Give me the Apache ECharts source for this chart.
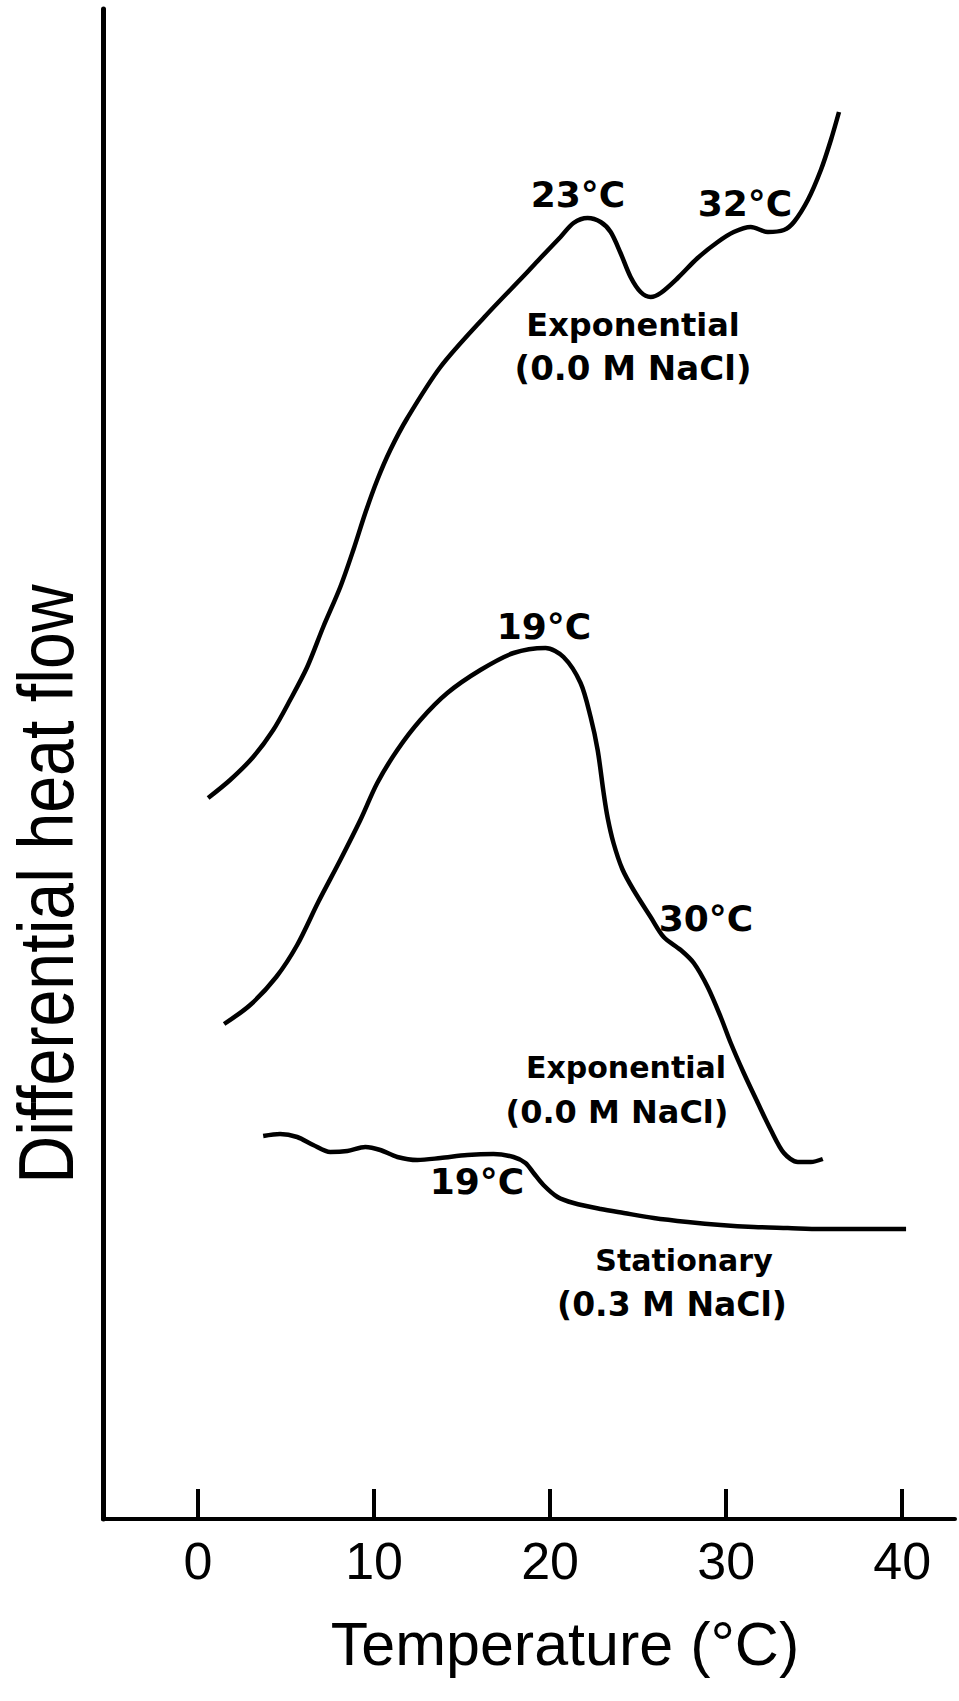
<!DOCTYPE html>
<html>
<head>
<meta charset="utf-8">
<script src="https://cdn.jsdelivr.net/npm/echarts@6/dist/echarts.min.js"></script>
<style>
html,body{margin:0;padding:0;background:#fff;}
#chart{width:959px;height:1701px;}
</style>
</head>
<body>
<div id="chart"></div>
<script>
// ---- data ----
const tempTicks = [0, 10, 20, 30, 40];

// Exponential (0.0 M NaCl) - upper trace
const expUpperT = [0.57,1.82,3.13,4.27,5.23,6.20,7.11,8.08,8.82,9.50,10.18,10.92,11.89,13.77,16.27,18.71,19.45,20.59,21.33,22.13,22.87,23.44,24.00,24.57,25.14,25.71,26.28,27.25,28.38,29.52,30.43,31.40,32.37,33.28,33.85,34.64,35.38,35.95,36.41];
const expUpperV = [72.1,73.9,76.2,78.9,81.9,85.2,89.2,93.2,96.9,100.6,103.9,106.9,110.1,115.2,120.2,124.7,126.1,128.2,129.6,130.1,129.7,128.7,126.6,124.2,122.7,122.2,122.6,124.1,126.1,127.7,128.7,129.2,128.7,128.9,129.7,131.9,134.9,137.9,140.7];

// Exponential (0.0 M NaCl) - middle trace
const expMiddleT = [1.48,2.96,4.44,5.63,6.83,8.08,9.22,10.18,11.32,12.63,14.16,16.04,17.92,19.74,20.76,21.73,22.30,22.70,23.04,23.27,23.60,24.10,24.74,25.71,26.45,27.42,28.16,28.95,29.69,30.26,31.00,31.80,32.54,33.28,34.07,34.81,35.49];
const expMiddleV = [49.5,51.4,54.2,57.4,61.7,65.9,69.9,73.6,76.9,79.9,82.6,84.9,86.6,87.1,86.2,83.6,80.2,76.9,72.6,70.1,67.6,65.0,62.9,60.2,58.2,56.9,55.6,53.2,50.2,47.6,44.6,41.6,38.9,36.6,35.7,35.7,36.0];

// Stationary (0.3 M NaCl) - lower trace
const stationaryT = [3.70,4.66,5.63,6.54,7.51,8.48,9.50,10.35,11.32,12.46,13.77,15.30,16.78,17.92,18.60,19.06,19.62,20.42,21.33,22.87,24.18,25.88,27.82,29.69,31.57,33.50,35.38,37.26,40.22];
const stationaryV = [38.3,38.5,38.2,37.4,36.7,36.8,37.2,36.9,36.2,35.9,36.1,36.4,36.5,36.2,35.6,34.6,33.4,32.2,31.6,31.0,30.6,30.1,29.7,29.4,29.2,29.1,29.0,29.0,29.0];

// annotation texts
const annotations = [
  {text: '23°C', x: 578, y: 194, size: 36},
  {text: '32°C', x: 745, y: 203, size: 36},
  {text: 'Exponential', x: 633, y: 325, size: 32},
  {text: '(0.0 M NaCl)', x: 633, y: 368, size: 34},
  {text: '19°C', x: 544, y: 626, size: 36},
  {text: '30°C', x: 706, y: 918, size: 36},
  {text: 'Exponential', x: 626, y: 1067, size: 30},
  {text: '(0.0 M NaCl)', x: 617, y: 1112, size: 32},
  {text: '19°C', x: 477, y: 1181, size: 36},
  {text: 'Stationary', x: 684, y: 1260, size: 30},
  {text: '(0.3 M NaCl)', x: 672, y: 1304, size: 33}
];

function pairs(t, v) { return t.map((x, i) => [x, v[i]]); }

const chart = echarts.init(document.getElementById('chart'), null, {renderer: 'svg'});

const lineStyle = {color: '#000', width: 4.5};
function lineSeries(name, t, v) {
  return {
    name: name, type: 'line', data: pairs(t, v),
    showSymbol: false, symbol: 'none', smooth: 0.3,
    lineStyle: lineStyle, silent: true, animation: false
  };
}

const graphics = annotations.map(a => ({
  type: 'text', x: a.x, y: a.y, silent: true,
  style: {
    text: a.text, x: 0, y: 0, fill: '#000',
    font: 'bold ' + a.size + 'px "DejaVu Sans", sans-serif',
    textAlign: 'center', textVerticalAlign: 'middle'
  }
}));
graphics.push({
  type: 'text', x: 46, y: 884, rotation: Math.PI / 2, scaleX: 0.85, silent: true,
  style: {
    text: 'Differential heat flow', x: 0, y: 0, fill: '#000',
    font: '78px "Liberation Sans", sans-serif',
    textAlign: 'center', textVerticalAlign: 'middle'
  }
});

chart.setOption({
  backgroundColor: '#fff',
  animation: false,
  grid: {left: 103, right: 4, top: 9, bottom: 182, containLabel: false, outerBoundsMode: 'none'},
  xAxis: {
    type: 'value', min: -5.4, max: 43,
    name: 'Temperature (°C)', nameLocation: 'middle', nameGap: 94,
    nameTextStyle: {color: '#000', fontSize: 61, fontFamily: '"Liberation Sans", sans-serif', padding: [0, 0, 0, 72]},
    axisLine: {show: true, onZero: false, lineStyle: {color: '#000', width: 4}},
    axisTick: {show: true, inside: true, length: 30, lineStyle: {color: '#000', width: 4}, customValues: tempTicks},
    axisLabel: {show: true, color: '#000', fontSize: 52, fontFamily: '"Liberation Sans", sans-serif', margin: 16, customValues: tempTicks},
    splitLine: {show: false}, minorTick: {show: false}
  },
  yAxis: {
    type: 'value', min: 0, max: 151,
    axisLine: {show: true, onZero: false, lineStyle: {color: '#000', width: 5}},
    axisTick: {show: false}, axisLabel: {show: false}, splitLine: {show: false}
  },
  series: [
    lineSeries('Exponential (0.0 M NaCl) upper', expUpperT, expUpperV),
    lineSeries('Exponential (0.0 M NaCl) middle', expMiddleT, expMiddleV),
    lineSeries('Stationary (0.3 M NaCl)', stationaryT, stationaryV)
  ],
  graphic: graphics
});
</script>
</body>
</html>
